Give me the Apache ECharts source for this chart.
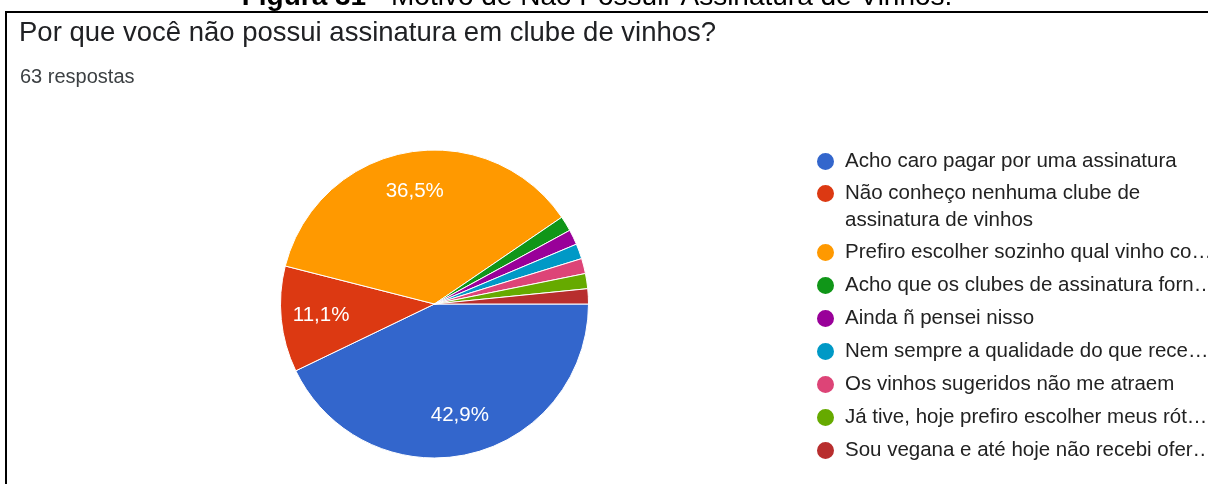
<!DOCTYPE html>
<html>
<head>
<meta charset="utf-8">
<script src="https://cdn.jsdelivr.net/npm/echarts@6/dist/echarts.min.js"></script>
<style>
  html, body { margin: 0; padding: 0; background: #fff; }
  #chart { width: 1208px; height: 484px; }
</style>
</head>
<body>
<div id="chart"></div>
<script>
var categories = [
    'Acho caro pagar por uma assinatura',
    'Não conheço nenhuma clube de assinatura de vinhos',
    'Prefiro escolher sozinho qual vinho co…',
    'Acho que os clubes de assinatura forn…',
    'Ainda ñ pensei nisso',
    'Nem sempre a qualidade do que rece…',
    'Os vinhos sugeridos não me atraem',
    'Já tive, hoje prefiro escolher meus rót…',
    'Sou vegana e até hoje não recebi ofer…'
];
var counts = [27, 7, 23, 1, 1, 1, 1, 1, 1];
var colors = ['#3366cc', '#dc3912', '#ff9900', '#109618', '#990099', '#0099c6', '#dd4477', '#66aa00', '#b82e2e'];
var total = 63;

(function(){
    var myChart = echarts.init(document.getElementById('chart'));
    var font = 'Arial, "Liberation Sans", sans-serif';

    var pieData = categories.map(function (name, i) {
        return { name: name, value: counts[i], itemStyle: { color: colors[i] } };
    });
    var labelData = categories.map(function (name, i) {
        return { name: name, value: counts[i] };
    });

    // shared legend look
    function legendBlock(names, top, extra) {
        var lg = {
            orient: 'vertical',
            left: 815,
            top: top,
            padding: 0,
            itemWidth: 19,
            itemHeight: 19,
            itemGap: 6,
            icon: 'circle',
            selectedMode: false,
            data: names,
            textStyle: {
                fontFamily: font,
                fontSize: 20.5,
                color: '#222',
                lineHeight: 27,
                padding: [0, 0, 0, 5]
            }
        };
        for (var k in extra) lg[k] = extra[k];
        return lg;
    }

    var option = {
        animation: false,
        color: colors,
        graphic: [
            {
                type: 'rect',
                shape: { x: 6, y: 12, width: 1220, height: 500 },
                style: { fill: 'none', stroke: '#000', lineWidth: 2 },
                silent: true
            },
            {
                type: 'text',
                x: 597, y: -3,
                style: {
                    text: '{b|Figura 31} - Motivo de Não Possuir Assinatura de Vinhos.',
                    font: '28px ' + font,
                    fill: '#000',
                    align: 'center',
                    verticalAlign: 'middle',
                    rich: { b: { fontWeight: 'bold', fontSize: 28, fontFamily: font } }
                }
            }
        ],
        title: [
            {
                text: 'Por que você não possui assinatura em clube de vinhos?',
                left: 19, top: 19,
                padding: 0,
                textStyle: { fontFamily: font, fontSize: 27.5, fontWeight: 'normal', color: '#202124' }
            },
            {
                text: '63 respostas',
                left: 20, top: 67,
                padding: 0,
                textStyle: { fontFamily: font, fontSize: 20, fontWeight: 'normal', color: '#3c4043' }
            }
        ],
        legend: [
            legendBlock([categories[0]], 148, {}),
            legendBlock([categories[1]], 153, {
                formatter: function (name) { return '\n' + name; },
                textStyle: {
                    fontFamily: font, fontSize: 20.5, color: '#222', lineHeight: 27,
                    padding: [0, 0, 0, 5], width: 345, overflow: 'break'
                }
            }),
            legendBlock(categories.slice(2), 239, {})
        ],
        series: [
            {
                type: 'pie',
                center: [434.5, 304],
                radius: [0, 154],
                startAngle: 0,
                clockwise: true,
                silent: true,
                data: pieData,
                itemStyle: { borderColor: '#fff', borderWidth: 1 },
                label: { show: false },
                labelLine: { show: false }
            },
            {
                type: 'pie',
                center: [434.5, 304],
                radius: [68, 154],
                startAngle: 0,
                clockwise: true,
                silent: true,
                data: labelData,
                itemStyle: { color: 'rgba(0,0,0,0)' },
                label: {
                    show: true,
                    position: 'inside',
                    color: '#fff',
                    fontFamily: font,
                    fontSize: 20.5,
                    formatter: function (p) {
                        var pct = p.value / total * 100;
                        if (pct < 5) return '';
                        return pct.toFixed(1).replace('.', ',') + '%';
                    }
                },
                labelLine: { show: false },
                legendHoverLink: false
            }
        ]
    };
    myChart.setOption(option);
})();
</script>
</body>
</html>
